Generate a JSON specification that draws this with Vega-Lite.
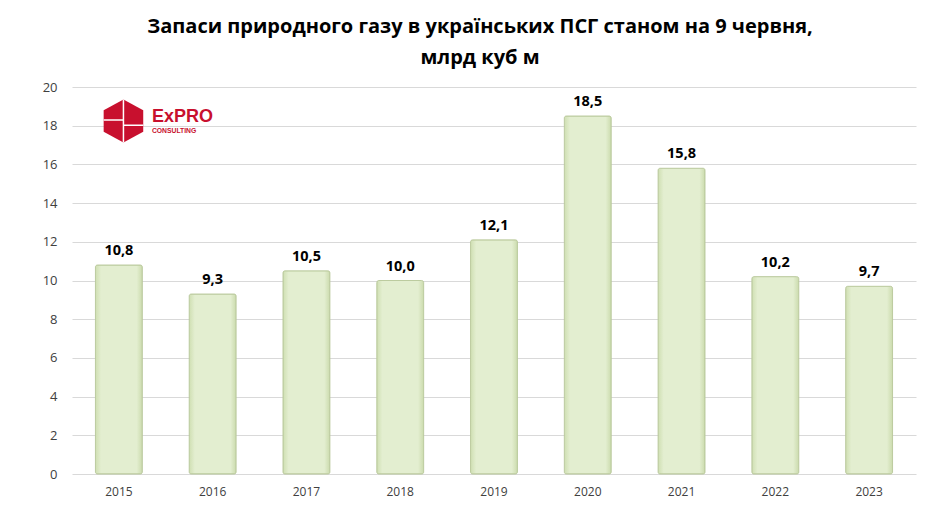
{
  "$schema": "https://vega.github.io/schema/vega-lite/v6.json",
  "width": 844,
  "height": 387,
  "autosize": "none",
  "padding": {"left": 72, "top": 87, "right": 20, "bottom": 42},
  "background": "white",
  "title": {
    "text": ["Запаси природного газу в українських ПСГ станом на 9 червня,", "млрд куб м"],
    "font": "Open Sans",
    "fontSize": 20,
    "fontWeight": "bold",
    "color": "#000000",
    "lineHeight": 31,
    "offset": 13,
    "dx": -14
  },
  "config": {
    "locale": {
      "number": {"decimal": ",", "thousands": " ", "grouping": [3], "currency": ["", ""]}
    },
    "view": {"stroke": null},
    "font": "Open Sans"
  },
  "data": {
    "values": [
      {"year": "2015", "stock": 10.8},
      {"year": "2016", "stock": 9.3},
      {"year": "2017", "stock": 10.5},
      {"year": "2018", "stock": 10.0},
      {"year": "2019", "stock": 12.1},
      {"year": "2020", "stock": 18.5},
      {"year": "2021", "stock": 15.8},
      {"year": "2022", "stock": 10.2},
      {"year": "2023", "stock": 9.7}
    ]
  },
  "encoding": {
    "x": {
      "field": "year",
      "type": "nominal",
      "title": null,
      "scale": {"paddingInner": 0.5, "paddingOuter": 0.25},
      "axis": {
        "labelAngle": 0,
        "labelFontSize": 12,
        "labelColor": "#404040",
        "labelPadding": 12,
        "ticks": false,
        "domain": false
      }
    },
    "y": {
      "field": "stock",
      "type": "quantitative",
      "title": null,
      "scale": {"domain": [0, 20]},
      "axis": {
        "values": [0, 2, 4, 6, 8, 10, 12, 14, 16, 18, 20],
        "labelFontSize": 13,
        "labelColor": "#404040",
        "labelPadding": 15,
        "ticks": false,
        "domain": false,
        "gridColor": "#d9d9d9"
      }
    }
  },
  "layer": [
    {
      "mark": {
        "type": "bar",
        "cornerRadius": 2,
        "stroke": "#bccb9f",
        "strokeWidth": 1,
        "fill": {
          "gradient": "linear",
          "x1": 0, "y1": 0, "x2": 1, "y2": 0,
          "stops": [
            {"offset": 0, "color": "#cfdfb2"},
            {"offset": 0.12, "color": "#e3eed0"},
            {"offset": 0.88, "color": "#e3eed0"},
            {"offset": 1, "color": "#cbdbad"}
          ]
        }
      }
    },
    {
      "mark": {
        "type": "text",
        "baseline": "bottom",
        "dy": -7,
        "fontSize": 14.5,
        "fontWeight": "bold",
        "color": "#000000"
      },
      "encoding": {
        "text": {"field": "stock", "type": "quantitative", "format": ".1f"}
      }
    },
    {
      "transform": [{"filter": "datum.year == '2015'"}],
      "mark": {
        "type": "point",
        "filled": true,
        "fill": "#c8102e",
        "strokeWidth": 0,
        "opacity": 1,
        "size": 1850,
        "shape": "M0,-1 L0.92,-0.5 L0.92,0.5 L0,1 L-0.92,0.5 L-0.92,-0.5 Z"
      },
      "encoding": {
        "y": {"datum": 18.24},
        "xOffset": {"value": 28}
      }
    },
    {
      "transform": [{"filter": "datum.year == '2015'"}],
      "mark": {
        "type": "point",
        "filled": false,
        "stroke": "white",
        "strokeWidth": 1.5,
        "opacity": 1,
        "size": 1850,
        "shape": "M0,-1 L0,1 M-0.92,-0.05 L0,-0.05 M0,0.2 L0.92,0.2"
      },
      "encoding": {
        "y": {"datum": 18.24},
        "xOffset": {"value": 28}
      }
    },
    {
      "transform": [{"filter": "datum.year == '2015'"}],
      "mark": {
        "type": "text",
        "align": "left",
        "baseline": "middle",
        "font": "Liberation Sans",
        "fontSize": 18,
        "fontWeight": "bold",
        "color": "#c8102e",
        "dx": 33,
        "dy": -4
      },
      "encoding": {
        "y": {"datum": 18.24},
        "text": {"value": "ExPRO"}
      }
    },
    {
      "transform": [{"filter": "datum.year == '2015'"}],
      "mark": {
        "type": "text",
        "align": "left",
        "baseline": "middle",
        "font": "Liberation Sans",
        "fontSize": 6.8,
        "fontWeight": "bold",
        "color": "#c8102e",
        "dx": 33,
        "dy": 10
      },
      "encoding": {
        "y": {"datum": 18.24},
        "text": {"value": "CONSULTING"}
      }
    }
  ]
}
